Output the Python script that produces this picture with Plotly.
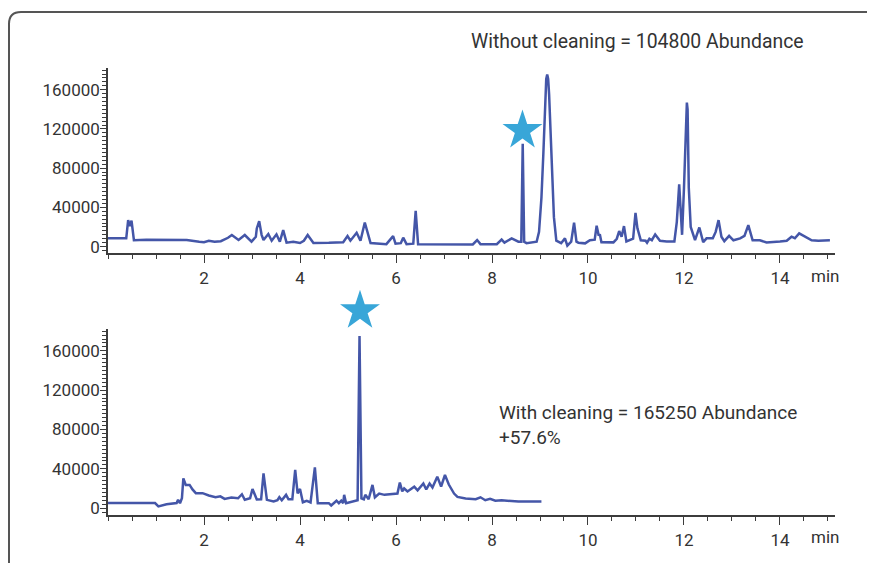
import plotly.graph_objects as go

# ---- data ----
top_time = [0.0, 0.38, 0.42, 0.455, 0.49, 0.54, 0.8, 1.2, 1.64, 1.9, 2.0, 2.1, 2.22, 2.35, 2.5, 2.58,
            2.72, 2.85, 2.99, 3.08, 3.1, 3.15, 3.2, 3.24, 3.34, 3.41, 3.51, 3.58, 3.65, 3.72, 3.86,
            4.0, 4.08, 4.16, 4.28, 4.6, 4.9, 4.99, 5.05, 5.18, 5.26, 5.35, 5.47, 5.8, 5.94, 5.99,
            6.1, 6.15, 6.22, 6.36, 6.41, 6.46, 7.0, 7.6, 7.69, 7.76, 8.1, 8.2, 8.26, 8.41, 8.55,
            8.61, 8.64, 8.67, 8.72, 8.93, 8.98, 9.03, 9.07, 9.11, 9.13, 9.15, 9.17, 9.19, 9.24,
            9.29, 9.34, 9.44, 9.52, 9.57, 9.65, 9.71, 9.76, 9.8, 9.94, 10.04, 10.14, 10.18, 10.22,
            10.25, 10.28, 10.53, 10.6, 10.65, 10.7, 10.75, 10.8, 10.94, 10.99, 11.03, 11.1, 11.2,
            11.23, 11.28, 11.33, 11.4, 11.5, 11.64, 11.8, 11.85, 11.9, 11.96, 12.0, 12.045, 12.06,
            12.075, 12.1, 12.14, 12.19, 12.23, 12.32, 12.4, 12.47, 12.6, 12.66, 12.72, 12.78,
            12.84, 12.94, 13.03, 13.17, 13.26, 13.34, 13.43, 13.58, 13.72, 14.0, 14.14, 14.24,
            14.31, 14.4, 14.52, 14.66, 14.8, 15.04]
top_abund = [8400, 8400, 27000, 21000, 26500, 6500, 7000, 6800, 6700, 5000, 4500, 6000, 5000, 5500,
             9000, 11800, 6700, 11800, 5000, 10000, 18500, 26000, 12000, 6700, 12800, 6000, 12500,
             5000, 16800, 4000, 5000, 3700, 6000, 11800, 3700, 3800, 4500, 10700, 6000, 14100,
             6000, 24600, 3700, 2500, 10700, 3000, 3500, 9100, 2500, 3000, 36400, 2500, 2200,
             2200, 6700, 2500, 2500, 7200, 4000, 8400, 5000, 5000, 105000, 5000, 3500, 5000,
             15000, 50000, 95000, 155000, 171000, 175500, 171000, 155000, 87000, 30000, 6000,
             3500, 8400, 1000, 5000, 24300, 5000, 4000, 3300, 6400, 7000, 21300, 12000, 11800,
             4500, 4300, 8000, 15900, 10100, 20900, 5300, 8000, 34400, 18600, 6400, 6000, 4000,
             8000, 6500, 12400, 6000, 5300, 5300, 25000, 63400, 12000, 60000, 140000, 146800,
             140000, 60000, 20000, 11800, 6500, 19500, 4600, 8400, 8400, 15000, 27000, 10000,
             5500, 11000, 6400, 8400, 11000, 21900, 6400, 6400, 4300, 5300, 6000, 10100, 8500,
             13500, 10100, 6400, 6000, 6400]

bottom_time = [0.0, 0.98, 1.05, 1.22, 1.43, 1.46, 1.5, 1.54, 1.57, 1.62, 1.7, 1.76, 1.83, 1.97, 2.1,
               2.24, 2.34, 2.43, 2.57, 2.71, 2.79, 2.85, 2.96, 3.01, 3.1, 3.19, 3.24, 3.31, 3.45,
               3.53, 3.57, 3.62, 3.71, 3.76, 3.84, 3.9, 3.95, 4.0, 4.06, 4.14, 4.22, 4.31, 4.37,
               4.6, 4.65, 4.76, 4.81, 4.86, 4.9, 4.92, 4.96, 5.06, 5.2, 5.24, 5.28, 5.33, 5.36,
               5.43, 5.51, 5.56, 5.65, 5.76, 5.9, 6.03, 6.08, 6.13, 6.17, 6.24, 6.38, 6.45, 6.57,
               6.63, 6.7, 6.76, 6.86, 6.94, 7.02, 7.1, 7.21, 7.28, 7.45, 7.66, 7.76, 7.86, 7.96,
               8.07, 8.2, 8.55, 9.03]
bottom_abund = [5100, 5100, 1700, 4000, 5100, 8400, 5000, 10000, 30300, 23600, 23600, 19000, 15200,
                15200, 12800, 11100, 12000, 9400, 10700, 10000, 14100, 8500, 10000, 19500, 8800,
                9000, 35400, 8400, 6700, 8000, 11100, 8000, 13500, 9000, 9000, 38800, 15000, 19500,
                6000, 7500, 5800, 41400, 5000, 5000, 2700, 7500, 5000, 7500, 5000, 13500, 5000,
                6500, 8000, 175100, 10000, 9000, 13500, 9000, 23600, 11000, 14800, 13500, 14500,
                14800, 26000, 17000, 20000, 17000, 21800, 18000, 25000, 19000, 25000, 21000, 32000,
                22000, 33700, 24000, 14800, 11400, 9700, 9000, 11000, 8000, 9500, 7500, 8000, 6700,
                6800]

star_top = (8.635, 118400)
star_bottom = (5.25, 200700)

y_ticks = [0, 40000, 80000, 120000, 160000]
y_labels = [str(v) for v in y_ticks]
x_ticks = [2, 4, 6, 8, 10, 12, 14]

title_top = "Without cleaning = 104800 Abundance"
title_bottom = "With cleaning = 165250 Abundance<br>+57.6%"

# ---- styling ----
W, H = 875, 563
OFF = 8  # page body margin
LINE = "#4456a8"
STAR = "#38a6d8"
AX = "#3c3c3c"
TXT = "#333333"
FONT = "Roboto"

def px(x):
    return (x - OFF) / W

def py(y):
    return 1 - (y - OFF) / H

X0, X1 = 108, 835
TOP = (68, 254.5)
BOT = (331, 518.3)
XR = [0, 15.146]
YR_TOP = [-6280, 182580]
YR_BOT = [-6670, 182530]

def extend_top(dom_px, yr):
    # range of an invisible axis that spans from the plot bottom to the top of the figure
    scale = (yr[1] - yr[0]) / (dom_px[1] - dom_px[0])
    return [yr[0], yr[0] + scale * (dom_px[1] - OFF)]

fig = go.Figure()
fig.add_trace(go.Scatter(x=top_time, y=top_abund, mode="lines",
                         line=dict(color=LINE, width=2.5), xaxis="x", yaxis="y",
                         hoverinfo="skip", showlegend=False))
fig.add_trace(go.Scatter(x=bottom_time, y=bottom_abund, mode="lines",
                         line=dict(color=LINE, width=2.5), xaxis="x2", yaxis="y2",
                         hoverinfo="skip", showlegend=False))
fig.add_trace(go.Scatter(x=[star_top[0]], y=[star_top[1]], mode="markers",
                         marker=dict(symbol="star", size=30, color=STAR, line=dict(width=0)),
                         xaxis="x3", yaxis="y3", cliponaxis=False, showlegend=False,
                         hoverinfo="skip"))
fig.add_trace(go.Scatter(x=[star_bottom[0]], y=[star_bottom[1]], mode="markers",
                         marker=dict(symbol="star", size=30, color=STAR, line=dict(width=0)),
                         xaxis="x4", yaxis="y4", cliponaxis=False, showlegend=False,
                         hoverinfo="skip"))

xdom = [px(X0), px(X1)]
common_x = dict(domain=xdom, range=XR, tickmode="array", tickvals=x_ticks,
                showline=True, linecolor=AX, linewidth=1.5, ticks="outside", ticklen=9,
                tickcolor=AX, tickwidth=1.2, showgrid=False, zeroline=False,
                tickfont=dict(family=FONT, size=17, color=TXT),
                minor=dict(tickmode="linear", tick0=0, dtick=0.5, ticks="outside", ticklen=5,
                           tickcolor=AX, tickwidth=1.2, showgrid=False))
common_y = dict(tickmode="array", tickvals=y_ticks, ticktext=y_labels, showline=True,
                linecolor=AX, linewidth=1.5, ticks="outside", ticklen=6, tickcolor=AX,
                tickwidth=1.2, showgrid=False, zeroline=False, ticklabelstandoff=-3,
                tickfont=dict(family=FONT, size=17, color=TXT),
                minor=dict(tickmode="linear", tick0=0, dtick=4000, ticks="outside", ticklen=4,
                           tickcolor=AX, tickwidth=1, showgrid=False))
hidden = dict(visible=False, showgrid=False, zeroline=False, fixedrange=True)

fig.update_layout(
    width=W, height=H,
    margin=dict(l=0, r=0, t=0, b=0),
    paper_bgcolor="white", plot_bgcolor="rgba(0,0,0,0)",
    xaxis=dict(common_x, anchor="y"),
    yaxis=dict(common_y, domain=[py(TOP[1]), py(TOP[0])], range=YR_TOP, anchor="x"),
    xaxis2=dict(common_x, anchor="y2"),
    yaxis2=dict(common_y, domain=[py(BOT[1]), py(BOT[0])], range=YR_BOT, anchor="x2"),
    xaxis3=dict(hidden, domain=xdom, range=XR, anchor="y3"),
    yaxis3=dict(hidden, domain=[py(TOP[1]), 1], range=extend_top(TOP, YR_TOP), anchor="x3"),
    xaxis4=dict(hidden, domain=xdom, range=XR, anchor="y4"),
    yaxis4=dict(hidden, domain=[py(BOT[1]), 1], range=extend_top(BOT, YR_BOT), anchor="x4"),
    annotations=[
        dict(text=title_top, x=px(469), y=py(42), xref="paper", yref="paper",
             xanchor="left", yanchor="middle", showarrow=False,
             font=dict(family=FONT, size=19.4, color=TXT)),
        dict(text=title_bottom, x=px(497), y=py(402), xref="paper", yref="paper",
             xanchor="left", yanchor="top", showarrow=False, align="left",
             font=dict(family=FONT, size=19, color=TXT)),
        dict(text="min", x=px(825), y=py(278), xref="paper", yref="paper",
             xanchor="center", yanchor="middle", showarrow=False,
             font=dict(family=FONT, size=17, color=TXT)),
        dict(text="min", x=px(825), y=py(541), xref="paper", yref="paper",
             xanchor="center", yanchor="middle", showarrow=False,
             font=dict(family=FONT, size=17, color=TXT)),
    ],
    shapes=[
        dict(type="path", xref="paper", yref="paper",
             path=(f"M {px(9)},{py(580)} L {px(9)},{py(24)} "
                   f"Q {px(9)},{py(12)} {px(21)},{py(12)} L {px(900)},{py(12)}"),
             line=dict(color="#555555", width=2)),
    ],
)

fig.write_html("out.html")
